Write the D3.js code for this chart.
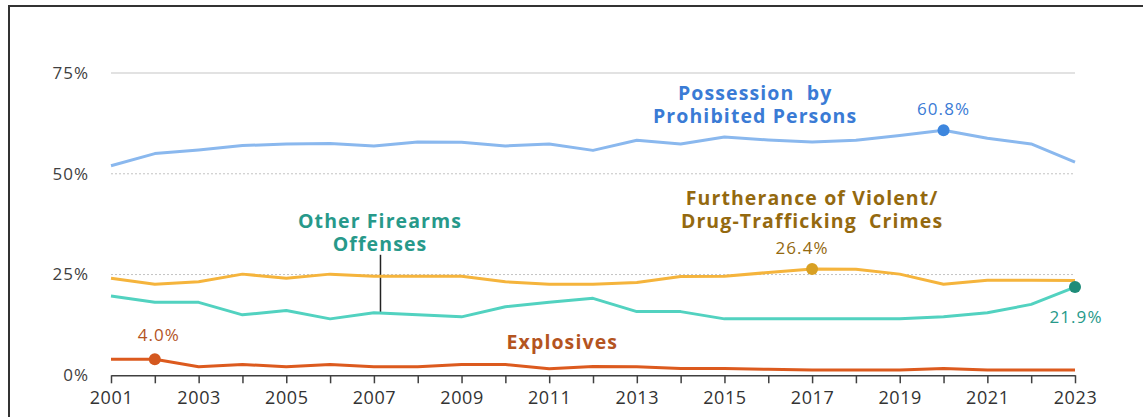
<!DOCTYPE html>
<html>
<head>
<meta charset="utf-8">
<script src="https://d3js.org/d3.v7.min.js"></script>
<style>
  body { margin: 0; background: #fff; }
  svg { display: block; font-family: "Open Sans", sans-serif; }
</style>
</head>
<body>
<script>
// chart data
var years = [2001, 2002, 2003, 2004, 2005, 2006, 2007, 2008, 2009, 2010, 2011, 2012,
  2013, 2014, 2015, 2016, 2017, 2018, 2019, 2020, 2021, 2022, 2023]
var yearLabels = [2001, 2003, 2005, 2007, 2009, 2011, 2013, 2015, 2017, 2019, 2021, 2023]
var pctTicks = [0, 25, 50, 75]

var possession = [52.0, 55.0, 55.9, 57.0, 57.4, 57.5, 56.9, 57.9, 57.8, 56.9, 57.4, 55.8,
  58.3, 57.4, 59.1, 58.4, 57.9, 58.3, 59.5, 60.8, 58.8, 57.4, 52.9]
var furtherance = [24.1, 22.6, 23.2, 25.1, 24.1, 25.1, 24.6, 24.6, 24.6, 23.2, 22.6, 22.6,
  23.0, 24.5, 24.6, 25.5, 26.4, 26.3, 25.1, 22.6, 23.6, 23.6, 23.5]
var otherFirearms = [19.7, 18.1, 18.1, 15.0, 16.1, 14.0, 15.5, 15.0, 14.5, 17.0, 18.1, 19.1,
  15.8, 15.8, 14.0, 14.0, 14.0, 14.0, 14.0, 14.5, 15.5, 17.6, 21.9]
var explosives = [4.0, 4.0, 2.1, 2.7, 2.1, 2.7, 2.1, 2.1, 2.7, 2.7, 1.6, 2.2,
  2.1, 1.7, 1.7, 1.5, 1.3, 1.3, 1.3, 1.7, 1.3, 1.3, 1.3]

var series = [
  { name: "possession", values: possession, line: "#8ab8ee", dot: "#3d86de", text: "#3a7bd5",
    mark: 2020, label: ["Possession  by", "Prohibited Persons"], at: [2015.7, 68.3] },
  { name: "furtherance", values: furtherance, line: "#f5b43c", dot: "#d8a024", text: "#94690f",
    mark: 2017, label: ["Furtherance of Violent/", "Drug-Trafficking  Crimes"], at: [2017, 42.2] },
  { name: "other", values: otherFirearms, line: "#52d2c0", dot: "#1f8c79", text: "#27998a",
    mark: 2023, label: ["Other Firearms", "Offenses"], at: [2007.14, 36.6] },
  { name: "explosives", values: explosives, line: "#dc5a1e", dot: "#d4581f", text: "#b4541f",
    mark: 2002, label: ["Explosives"], at: [2011.3, 6.5] }
]

// where the value callouts sit relative to their dot
var callouts = {
  possession: { dx: 0, dy: -15 },
  furtherance: { dx: -10, dy: -15 },
  other: { dx: 1, dy: 36 },
  explosives: { dx: 4, dy: -18 }
}

var W = 1143, H = 417

var svg = d3.select("body").append("svg")
  .attr("width", W)
  .attr("height", H)

// frame, cut off at the right and bottom like the source
svg.append("rect")
  .attr("x", 9).attr("y", 6)
  .attr("width", W).attr("height", H)
  .attr("fill", "none")
  .attr("stroke", "#333")
  .attr("stroke-width", 2)

var x = d3.scaleLinear().domain([2001, 2023]).range([111, 1075])
var y = d3.scaleLinear().domain([0, 75]).range([375.3, 73])

// gridlines
svg.selectAll("line.grid")
  .data(pctTicks.filter(function(d) { return d > 0 }))
  .enter().append("line")
    .attr("class", "grid")
    .attr("x1", x(2001)).attr("x2", x(2023))
    .attr("y1", function(d) { return y(d) })
    .attr("y2", function(d) { return y(d) })
    .attr("stroke", function(d) { return d == 75 ? "#d9d9d9" : "#c4c4c4" })
    .attr("stroke-width", function(d) { return d == 75 ? 1.5 : 1 })
    .attr("stroke-dasharray", function(d) { return d == 75 ? null : "2,2" })

// y labels
svg.selectAll("text.ylab")
  .data(pctTicks)
  .enter().append("text")
    .attr("class", "ylab")
    .attr("x", 89)
    .attr("y", function(d) { return y(d) })
    .attr("dy", "0.35em")
    .attr("text-anchor", "end")
    .attr("font-size", 17)
    .attr("letter-spacing", 1)
    .attr("fill", "#404040")
    .text(function(d) { return d + "%" })

// x axis: tick every year, label every other year
var xAxis = d3.axisBottom(x)
  .tickValues(years)
  .tickSize(8)
  .tickSizeOuter(0)
  .tickFormat(function(d) { return yearLabels.indexOf(d) >= 0 ? d : "" })

var gx = svg.append("g")
  .attr("transform", "translate(0," + y(0) + ")")
  .call(xAxis)
gx.select(".domain").attr("stroke", "#404040").attr("stroke-width", 1.5)
gx.selectAll(".tick line").attr("stroke", "#404040").attr("stroke-width", 1.5)
gx.selectAll(".tick text")
  .attr("font-family", "Open Sans, sans-serif")
  .attr("font-size", 18)
  .attr("letter-spacing", 0.6)
  .attr("fill", "#333")
  .attr("dy", "0.98em")

var line = d3.line()
  .x(function(d) { return x(d[0]) })
  .y(function(d) { return y(d[1]) })

// leader from "Other Firearms Offenses" down to its line
svg.append("line")
  .attr("x1", x(2007.15)).attr("x2", x(2007.15))
  .attr("y1", y(29.9))
  .attr("y2", y(15.4))
  .attr("stroke", "#222")
  .attr("stroke-width", 1.5)

var g = svg.selectAll("g.series")
  .data(series)
  .enter().append("g")
    .attr("class", "series")

g.append("path")
  .attr("d", function(s) { return line(years.map(function(yr, i) { return [yr, s.values[i]] })) })
  .attr("fill", "none")
  .attr("stroke", function(s) { return s.line })
  .attr("stroke-width", 3)
  .attr("stroke-linejoin", "round")

g.append("circle")
  .attr("cx", function(s) { return x(s.mark) })
  .attr("cy", function(s) { return y(s.values[years.indexOf(s.mark)]) })
  .attr("r", 6)
  .attr("fill", function(s) { return s.dot })

g.append("text")
  .attr("x", function(s) { return x(s.mark) + callouts[s.name].dx })
  .attr("y", function(s) { return y(s.values[years.indexOf(s.mark)]) + callouts[s.name].dy })
  .attr("text-anchor", "middle")
  .attr("font-size", 17)
  .attr("letter-spacing", 1.1)
  .attr("fill", function(s) { return s.text })
  .text(function(s) { return s.values[years.indexOf(s.mark)].toFixed(1) + "%" })

// series names
g.append("text")
  .attr("x", function(s) { return x(s.at[0]) })
  .attr("y", function(s) { return y(s.at[1]) })
  .attr("text-anchor", "middle")
  .attr("font-size", 19.5)
  .attr("font-weight", 700)
  .attr("letter-spacing", 1.1)
  .attr("fill", function(s) { return s.text })
  .style("white-space", "pre")
  .selectAll("tspan")
  .data(function(s) { return s.label })
  .enter().append("tspan")
    .attr("x", function() { return d3.select(this.parentNode).attr("x") })
    .attr("dy", function(d, i) { return i ? 23 : 0 })
    .text(function(d) { return d })
</script>
</body>
</html>
